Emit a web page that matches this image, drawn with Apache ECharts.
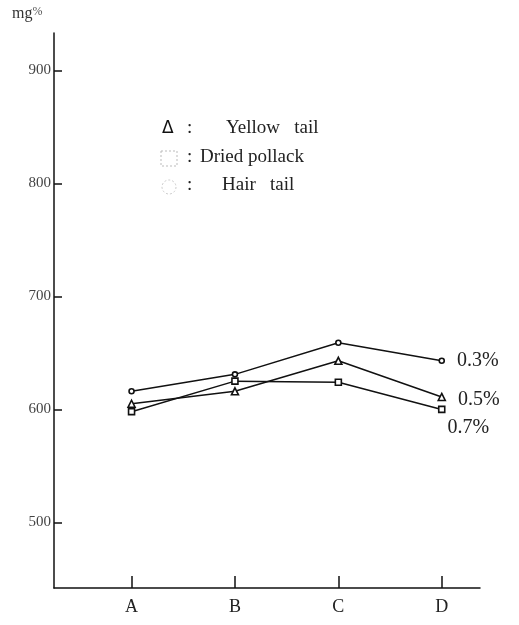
<!DOCTYPE html>
<html>
<head>
<meta charset="utf-8">
<script src="https://cdn.jsdelivr.net/npm/echarts@6/dist/echarts.min.js"></script>
<style>
  html, body { margin: 0; padding: 0; background: #fff; }
  #chart { width: 519px; height: 625px; }
</style>
</head>
<body>
<div id="chart"></div>
<script>
// Sample positions along the x axis
const categories = ['A', 'B', 'C', 'D'];
// Content (mg%) for each concentration
const seriesNames = ['0.3%', '0.5%', '0.7%'];
const values03 = [616, 631, 659, 643];
const values05 = [605, 616, 643, 611];
const values07 = [598, 625, 624, 600];
// Y tick labels
const yTicks = [500, 600, 700, 800, 900];

const SERIF = '"Liberation Serif", "DejaVu Serif", serif';

function pairs(vals) {
  return vals.map((v, i) => [i, v]);
}

function withEndLabel(vals, name, offset) {
  const d = pairs(vals);
  const last = d.length - 1;
  d[last] = {
    value: d[last],
    label: {
      show: true,
      formatter: name,
      position: 'right',
      distance: 12,
      offset: offset,
      fontFamily: SERIF,
      fontSize: 20,
      color: '#222'
    }
  };
  return d;
}

const lineStyle = { color: '#111', width: 1.5 };
const itemStyle = { color: '#fff', borderColor: '#111', borderWidth: 1.6 };

const chart = echarts.init(document.getElementById('chart'), null, { renderer: 'canvas' });

chart.setOption({
  animation: false,
  backgroundColor: '#fff',
  grid: { left: 54, right: 39, top: 33, bottom: 37 },
  xAxis: {
    type: 'value',
    min: -0.75,
    max: 3.37,
    splitLine: { show: false },
    axisLine: { show: true, onZero: false, lineStyle: { color: '#111', width: 1.5 } },
    axisTick: { show: true, inside: true, length: 12, customValues: [0, 1, 2, 3],
                lineStyle: { color: '#111', width: 1.5 } },
    axisLabel: { customValues: [0, 1, 2, 3], formatter: v => categories[v] || '',
                 fontFamily: SERIF, fontSize: 18, color: '#222', margin: 10 }
  },
  yAxis: {
    type: 'value',
    min: 442,
    max: 933,
    splitLine: { show: false },
    axisLine: { show: true, onZero: false, lineStyle: { color: '#111', width: 1.5 } },
    axisTick: { show: true, inside: true, length: 8, customValues: yTicks,
                lineStyle: { color: '#111', width: 1.5 } },
    axisLabel: { customValues: yTicks, fontFamily: SERIF, fontSize: 15, color: '#444', margin: 3 }
  },
  series: [
    {
      name: seriesNames[0], type: 'line', data: withEndLabel(values03, seriesNames[0], [0, 0]),
      symbol: 'circle', symbolSize: 5, lineStyle, itemStyle
    },
    {
      name: seriesNames[1], type: 'line', data: withEndLabel(values05, seriesNames[1], [0, 3]),
      symbol: 'triangle', symbolSize: 7, lineStyle, itemStyle
    },
    {
      name: seriesNames[2], type: 'line', data: withEndLabel(values07, seriesNames[2], [-10, 18]),
      symbol: 'rect', symbolSize: 6, lineStyle, itemStyle
    }
  ],
  graphic: [
    { type: 'text', left: 12, top: 6,
      style: { text: 'mg{p|%}', font: '16px ' + SERIF, fill: '#333',
               rich: { p: { fontSize: 12, fontFamily: SERIF, fill: '#555', verticalAlign: 'top' } } } },
    // key
    { type: 'text', x: 162, y: 120, style: { text: 'Δ', font: '17px "DejaVu Sans", sans-serif', fill: '#111' } },
    { type: 'text', x: 187, y: 119, style: { text: ':', font: '19px ' + SERIF, fill: '#222' } },
    { type: 'text', x: 226, y: 119, style: { text: 'Yellow   tail', font: '19px ' + SERIF, fill: '#222' } },
    { type: 'rect', shape: { x: 161, y: 151, width: 16, height: 15 },
      style: { fill: 'none', stroke: '#bbb', lineWidth: 1, lineDash: [2, 2] } },
    { type: 'text', x: 187, y: 148, style: { text: ':', font: '19px ' + SERIF, fill: '#222' } },
    { type: 'text', x: 200, y: 148, style: { text: 'Dried pollack', font: '19px ' + SERIF, fill: '#222' } },
    { type: 'circle', shape: { cx: 169, cy: 187, r: 7 },
      style: { fill: 'none', stroke: '#ccc', lineWidth: 1, lineDash: [2, 2] } },
    { type: 'text', x: 187, y: 176, style: { text: ':', font: '19px ' + SERIF, fill: '#222' } },
    { type: 'text', x: 222, y: 176, style: { text: 'Hair   tail', font: '19px ' + SERIF, fill: '#222' } }
  ]
});
</script>
</body>
</html>
